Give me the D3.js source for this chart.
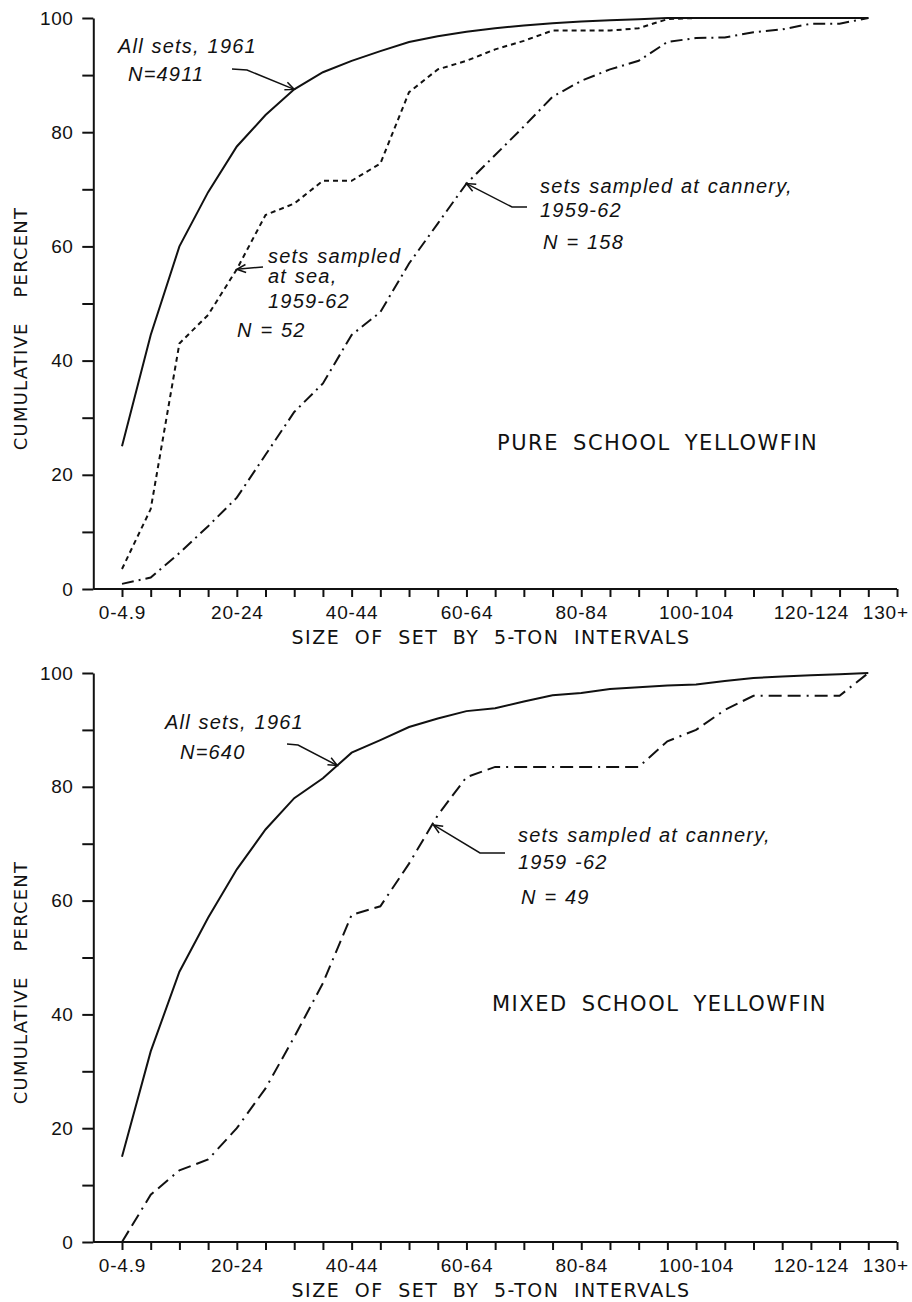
<!DOCTYPE html>
<html>
<head>
<meta charset="utf-8">
<script src="https://cdn.jsdelivr.net/npm/d3@7"></script>
<style>
  body { margin: 0; background: #fff; }
  svg text { fill: #111; }
</style>
</head>
<body>
<div id="chart"></div>
<script>
// size classes, 5-ton steps
var categories = ["0-4.9", "5-9.9", "10-14", "15-19", "20-24", "25-29", "30-34",
  "35-39", "40-44", "45-49", "50-54", "55-59", "60-64", "65-69", "70-74", "75-79",
  "80-84", "85-89", "90-94", "95-99", "100-104", "105-109", "110-114", "115-119",
  "120-124", "125-129", "130+"];
var labelled = ["0-4.9", "20-24", "40-44", "60-64", "80-84", "100-104", "120-124", "130+"];
var yTicks = [0, 10, 20, 30, 40, 50, 60, 70, 80, 90, 100];

// pure school yellowfin
var pureAll = [25, 44.5, 60, 69.5, 77.5, 83, 87.5, 90.5, 92.5, 94.2, 95.8, 96.8,
  97.6, 98.2, 98.7, 99.1, 99.4, 99.6, 99.8, 100, 100, 100, 100, 100, 100, 100, 100];
var pureSea = [3.5, 14, 43, 48, 56, 65.5, 67.5, 71.5, 71.5, 74.5, 87, 91, 92.5,
  94.5, 96, 97.8, 97.8, 97.8, 98.2, 99.8, 100, 100, 100, 100, 100, 100, 100];
var pureCannery = [0.9, 2, 6.3, 11, 16, 23.5, 31, 36, 44.5, 48.5, 57, 64, 71,
  76, 81, 86.2, 89, 91, 92.5, 95.8, 96.5, 96.6, 97.5, 98, 99, 99, 100];

// mixed school yellowfin
var mixedAll = [15, 33.5, 47.5, 57, 65.5, 72.5, 78, 81.5, 86, 88.2, 90.5, 92,
  93.3, 93.8, 95, 96.1, 96.5, 97.2, 97.5, 97.8, 98, 98.6, 99.1, 99.4, 99.6, 99.8, 100];
var mixedCannery = [0, 8.3, 12.6, 14.5, 20, 27, 36, 45.5, 57.5, 59, 66.5, 75,
  81.7, 83.5, 83.5, 83.5, 83.5, 83.5, 83.5, 88, 90, 93.5, 96, 96, 96, 96, 100];

var width = 912, height = 1302;
var svg = d3.select("#chart").append("svg")
  .attr("width", width)
  .attr("height", height)
  .style("font-family", "'DejaVu Sans', sans-serif");

svg.append("defs").append("marker")
  .attr("id", "arrow")
  .attr("viewBox", "-10 -6 12 12")
  .attr("refX", 0).attr("refY", 0)
  .attr("markerWidth", 12).attr("markerHeight", 12)
  .attr("markerUnits", "userSpaceOnUse")
  .attr("orient", "auto")
  .append("path")
  .attr("d", "M-9,-4L0,0L-9,4")
  .attr("fill", "none")
  .attr("stroke", "#111")
  .attr("stroke-width", 1.5);

// one extra slot after 130+ for the closing tick
var x = d3.scalePoint()
  .domain(categories.concat(["end"]))
  .range([122, 897]);
var axisX = x(categories[0]) - x.step();

function xAt(i) {
  return x(categories[0]) + i * x.step();
}

function drawPanel(p) {
  var y = d3.scaleLinear().domain([0, 100]).range([p.bottom, p.top]);
  var g = svg.append("g");

  var xAxis = d3.axisBottom(x)
    .tickSize(8)
    .tickSizeOuter(0)
    .tickPadding(9)
    .tickFormat(function (d) { return labelled.indexOf(d) >= 0 ? d : ""; });

  var gx = g.append("g")
    .attr("transform", "translate(0," + p.bottom + ")")
    .call(xAxis);
  gx.select(".domain").attr("d", "M" + axisX + ",0H" + x.range()[1]);
  gx.selectAll("text")
    .style("font-size", "19px")
    .style("letter-spacing", "0.8px")
    .filter(function (d) { return d === "130+"; })
    .attr("text-anchor", "start")
    .attr("dx", -6);

  var yAxis = d3.axisLeft(y)
    .tickValues(yTicks)
    .tickSize(11)
    .tickSizeOuter(0)
    .tickPadding(9)
    .tickFormat(function (d) { return d % 20 === 0 ? d : ""; });

  g.append("g")
    .attr("transform", "translate(" + axisX + ",0)")
    .call(yAxis)
    .selectAll("text")
    .style("font-size", "19px")
    .style("letter-spacing", "0.5px");

  g.selectAll(".domain, .tick line")
    .attr("stroke", "#111")
    .attr("stroke-width", 2);

  g.append("text")
    .attr("x", 491)
    .attr("y", p.bottom + 48)
    .attr("text-anchor", "middle")
    .attr("dy", "0.36em")
    .style("font-size", "19px")
    .style("letter-spacing", "1.5px")
    .style("word-spacing", "7px")
    .text("SIZE OF SET BY 5-TON INTERVALS");

  g.append("text")
    .attr("transform", "translate(21," + ((p.top + p.bottom) / 2 + 25) + ") rotate(-90)")
    .attr("text-anchor", "middle")
    .attr("dy", "0.36em")
    .style("font-size", "18px")
    .style("letter-spacing", "1.2px")
    .style("word-spacing", "18px")
    .text("CUMULATIVE PERCENT");

  g.append("text")
    .attr("x", p.title.x)
    .attr("y", p.title.y)
    .attr("dy", "0.36em")
    .style("font-size", "21px")
    .style("letter-spacing", "1.5px")
    .style("word-spacing", "6px")
    .text(p.title.text);

  var line = d3.line()
    .x(function (d, i) { return x(categories[i]); })
    .y(function (d) { return y(d); });

  p.series.forEach(function (s) {
    g.append("path")
      .datum(s.values)
      .attr("d", line)
      .attr("fill", "none")
      .attr("stroke", "#111")
      .attr("stroke-width", 2)
      .attr("stroke-dasharray", s.dash);
  });

  p.notes.forEach(function (n) {
    var tip = [xAt(n.at[0]), y(n.at[1])];
    var pts = n.tail.concat([tip]);
    g.append("path")
      .attr("d", d3.line()(pts))
      .attr("fill", "none")
      .attr("stroke", "#111")
      .attr("stroke-width", 1.5)
      .attr("marker-end", "url(#arrow)");
    n.lines.forEach(function (l) {
      g.append("text")
        .attr("x", l[0])
        .attr("y", l[1])
        .attr("dy", "0.36em")
        .style("font-family", "'Liberation Sans', sans-serif")
        .style("font-style", "italic")
        .style("font-size", "20px")
        .style("letter-spacing", "1.2px")
        .style("word-spacing", "1px")
        .text(l[2]);
    });
  });
}

drawPanel({
  top: 18, bottom: 589,
  title: { text: "PURE SCHOOL YELLOWFIN", x: 497, y: 442 },
  series: [
    { values: pureAll, dash: null },
    { values: pureSea, dash: "5,4" },
    { values: pureCannery, dash: "12,5,2,5" }
  ],
  notes: [
    { at: [6, 87.5], tail: [[232, 69], [247, 70]],
      lines: [[118, 46, "All sets, 1961"], [128, 74, "N=4911"]] },
    { at: [4, 56], tail: [[263, 267]],
      lines: [[268, 256, "sets sampled"], [268, 276, "at sea,"],
              [268, 301, "1959-62"], [237, 330, "N = 52"]] },
    { at: [12, 71], tail: [[527, 207], [512, 207]],
      lines: [[540, 186, "sets sampled at cannery,"], [540, 210, "1959-62"],
              [543, 242, "N = 158"]] }
  ]
});

drawPanel({
  top: 673, bottom: 1242,
  title: { text: "MIXED SCHOOL YELLOWFIN", x: 492, y: 1003 },
  series: [
    { values: mixedAll, dash: null },
    { values: mixedCannery, dash: "13,6,13,6,2,6" }
  ],
  notes: [
    { at: [7.5, 83.75], tail: [[287, 744], [298, 745]],
      lines: [[165, 722, "All sets, 1961"], [180, 752, "N=640"]] },
    { at: [10.85, 73.3], tail: [[505, 853], [480, 853]],
      lines: [[518, 835, "sets sampled at cannery,"], [518, 862, "1959 -62"],
              [521, 897, "N = 49"]] }
  ]
});
</script>
</body>
</html>
